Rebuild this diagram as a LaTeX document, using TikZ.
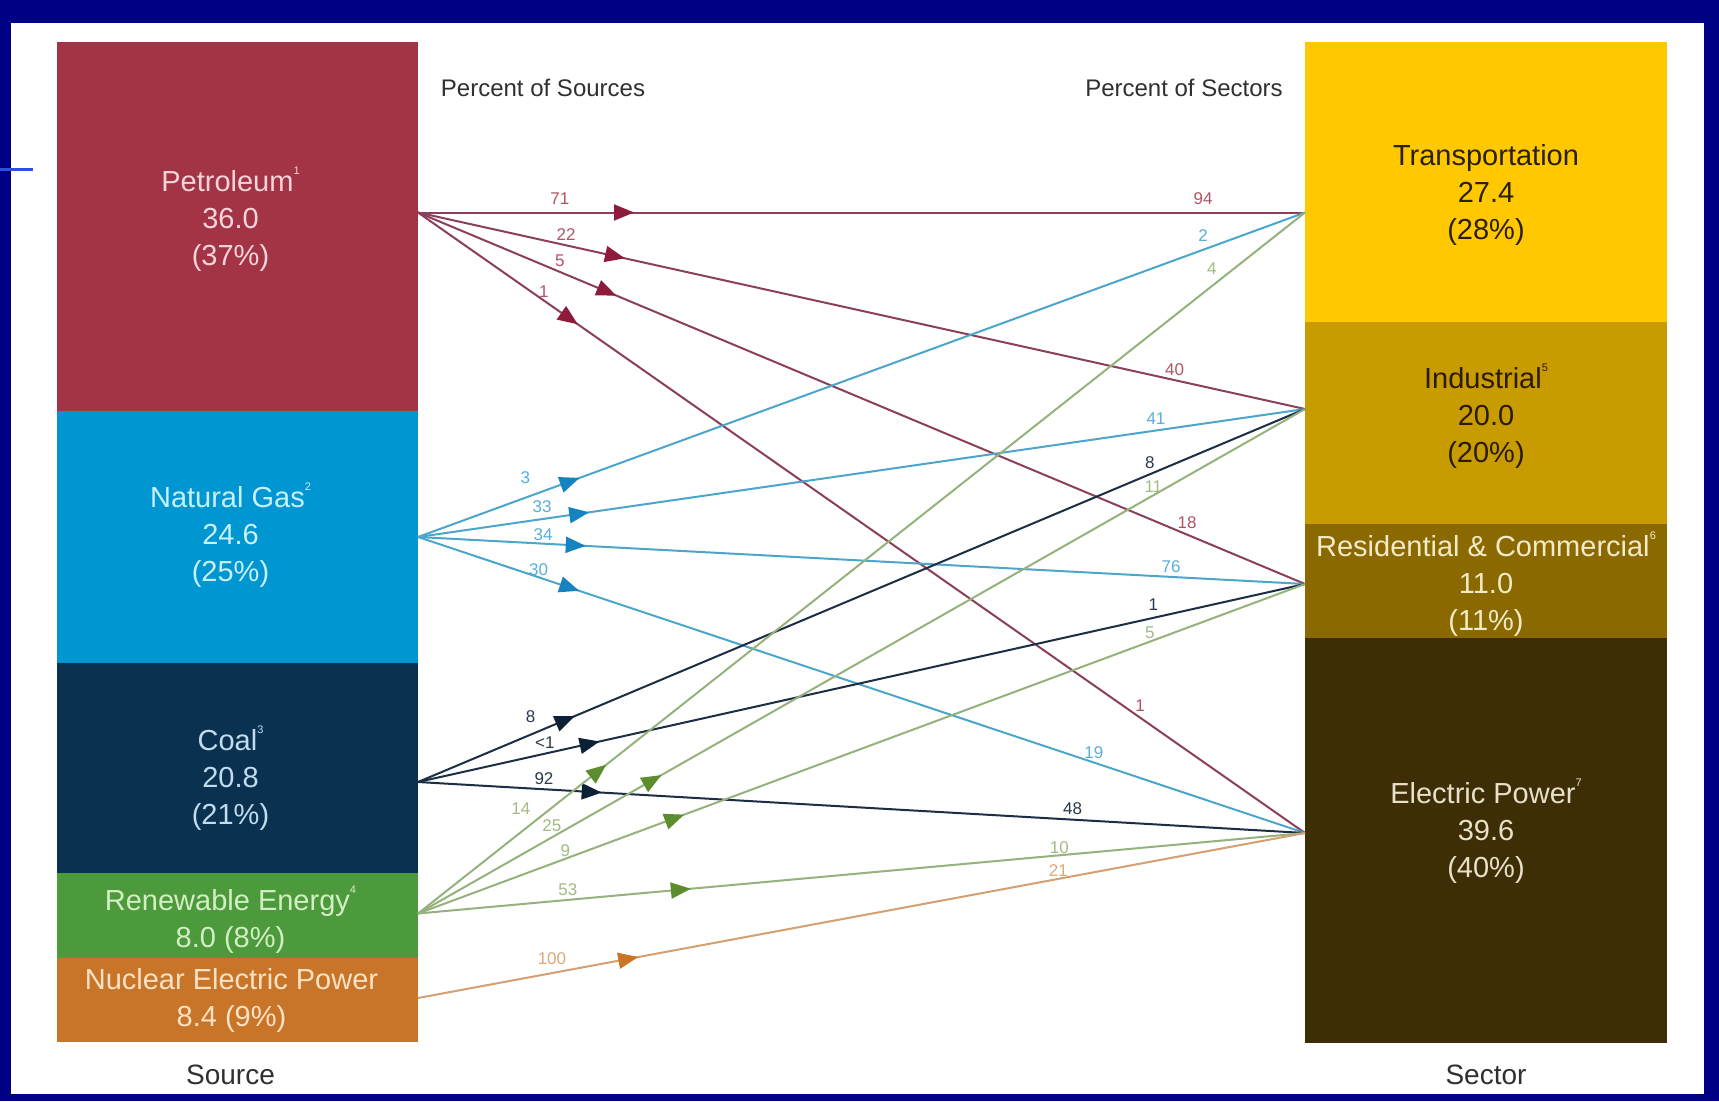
\documentclass[tikz,border=0pt]{standalone}
\usepackage{fontspec}
\setmainfont{Liberation Sans}
\usepackage{tikz}
\usetikzlibrary{arrows.meta, positioning, decorations.markings}

\definecolor{navy}{HTML}{000084}
\definecolor{slideblue}{HTML}{2E4FE0}
\definecolor{headgray}{HTML}{303030}
% source colours
\definecolor{petfill}{HTML}{A33445}
\definecolor{pettext}{HTML}{F6D4DA}
\definecolor{ngfill}{HTML}{0096D2}
\definecolor{ngtext}{HTML}{C8F0FF}
\definecolor{coalfill}{HTML}{0A3150}
\definecolor{coaltext}{HTML}{C0DCEE}
\definecolor{renfill}{HTML}{4C9A3C}
\definecolor{rentext}{HTML}{D4EEC4}
\definecolor{nucfill}{HTML}{C8752A}
\definecolor{nuctext}{HTML}{FBE2C4}
% sector colours
\definecolor{trfill}{HTML}{FFC800}
\definecolor{trtext}{HTML}{2A2000}
\definecolor{indfill}{HTML}{C89B00}
\definecolor{indtext}{HTML}{2A1C00}
\definecolor{rcfill}{HTML}{8A6A00}
\definecolor{rctext}{HTML}{F2EAC8}
\definecolor{elfill}{HTML}{3D2E05}
\definecolor{eltext}{HTML}{E8E0C8}
% flow colours
\definecolor{petline}{HTML}{8C4058}
\definecolor{petarrow}{HTML}{8E1B3C}
\definecolor{petlabel}{HTML}{B05464}
\definecolor{ngline}{HTML}{4CA6CC}
\definecolor{ngarrow}{HTML}{1583C0}
\definecolor{nglabel}{HTML}{5AAFD8}
\definecolor{coalline}{HTML}{1C2E44}
\definecolor{coalarrow}{HTML}{0C2036}
\definecolor{coallabel}{HTML}{2A3A4C}
\definecolor{renline}{HTML}{96B27C}
\definecolor{renarrow}{HTML}{5C8E2E}
\definecolor{renlabel}{HTML}{A2BA84}
\definecolor{nucline}{HTML}{D4A070}
\definecolor{nucarrow}{HTML}{CC7426}
\definecolor{nuclabel}{HTML}{DCA878}

\newcommand{\supnum}[1]{\raisebox{1.1ex}{\fontsize{11}{11}\selectfont #1}}

\tikzstyle{srcbox} = [rectangle, minimum width=361pt, inner sep=0pt, outer sep=0pt]
\tikzstyle{secbox} = [rectangle, minimum width=362pt, inner sep=0pt, outer sep=0pt]
\tikzstyle{boxtext} = [align=center, inner sep=0pt, font=\fontsize{29}{37}\selectfont]
\tikzstyle{head} = [font=\fontsize{24}{24}\selectfont, text=headgray]
\tikzstyle{foot} = [font=\fontsize{28}{28}\selectfont, text=headgray, inner sep=2pt]
\tikzset{
  flow/.style n args={3}{draw=#1, line width=2pt, postaction={decorate},
    decoration={markings, mark=at position #3 with {\arrow{Triangle[length=20pt,width=16pt,color=#2]}}}},
  petflow/.style={flow={petline}{petarrow}{#1}},
  ngflow/.style={flow={ngline}{ngarrow}{#1}},
  coalflow/.style={flow={coalline}{coalarrow}{#1}},
  renflow/.style={flow={renline}{renarrow}{#1}},
  nucflow/.style={flow={nucline}{nucarrow}{#1}},
  lbl/.style={font=\fontsize{17}{17}\selectfont, inner sep=1pt, text=#1},
}

\begin{document}
\begin{tikzpicture}[x=1pt, y=-1pt]
\useasboundingbox (0,0) rectangle (1719,1101);

% Frame
\fill[navy] (0,0) rectangle (1719,1101);
\fill[white] (11,23) rectangle (1704,1094);
\fill[slideblue] (0,168) rectangle (33,171);

% Source bars
\node (petroleum) [srcbox, fill=petfill, minimum height=369pt] at (237.5,226.5) {};
\node (natgas) [srcbox, fill=ngfill, minimum height=252pt, below=0pt of petroleum] {};
\node (coal) [srcbox, fill=coalfill, minimum height=210pt, below=0pt of natgas] {};
\node (renewable) [srcbox, fill=renfill, minimum height=85pt, below=0pt of coal] {};
\node (nuclear) [srcbox, fill=nucfill, minimum height=84pt, below=0pt of renewable] {};

% Sector bars
\node (transport) [secbox, fill=trfill, minimum height=280pt] at (1486,182) {};
\node (industrial) [secbox, fill=indfill, minimum height=202pt, below=0pt of transport] {};
\node (rescom) [secbox, fill=rcfill, minimum height=114pt, below=0pt of industrial] {};
\node (electric) [secbox, fill=elfill, minimum height=405pt, below=0pt of rescom] {};

% Bar texts
\node (pet-txt) [boxtext, text=pettext] at ([xshift=-7pt, yshift=7pt]petroleum) {Petroleum\supnum{1}\\36.0\\(37\%)};
\node (ng-txt) [boxtext, text=ngtext] at ([xshift=-7pt, yshift=2pt]natgas) {Natural Gas\supnum{2}\\24.6\\(25\%)};
\node (coal-txt) [boxtext, text=coaltext] at ([xshift=-7pt, yshift=-10pt]coal) {Coal\supnum{3}\\20.8\\(21\%)};
\node (ren-txt) [boxtext, text=rentext] at ([xshift=-7pt, yshift=-4pt]renewable) {Renewable Energy\supnum{4}\\8.0 (8\%)};
\node (nuc-txt) [boxtext, text=nuctext] at ([xshift=-6pt]nuclear) {Nuclear Electric Power\\8.4 (9\%)};
\node (tr-txt) [boxtext, text=trtext] at ([yshift=-13pt]transport) {Transportation\\27.4\\(28\%)};
\node (ind-txt) [boxtext, text=indtext] at ([yshift=7pt]industrial) {Industrial\supnum{5}\\20.0\\(20\%)};
\node (rc-txt) [boxtext, text=rctext] at ([yshift=-3pt]rescom) {Residential \& Commercial\supnum{6}\\11.0\\(11\%)};
\node (el-txt) [boxtext, text=eltext] at ([yshift=9pt]electric) {Electric Power\supnum{7}\\39.6\\(40\%)};

% Headings
\node (srchead) [head] at (543,88) {Percent of Sources};
\node (sechead) [head] at (1184,88) {Percent of Sectors};
\node (srcfoot) [foot, below=21pt of nuclear, xshift=-7pt] {Source};
\node (secfoot) [foot, below=20pt of electric] {Sector};

% Ports
\coordinate (pet-out) at ([yshift=14pt]petroleum.east);
\coordinate (ng-out) at (natgas.east);
\coordinate (coal-out) at ([yshift=-14pt]coal.east);
\coordinate (ren-out) at ([yshift=2pt]renewable.east);
\coordinate (nuc-out) at ([yshift=2pt]nuclear.east);
\coordinate (tr-in) at ([yshift=-30.5pt]transport.west);
\coordinate (ind-in) at ([yshift=14pt]industrial.west);
\coordinate (rc-in) at ([yshift=-3pt]rescom.west);
\coordinate (el-in) at ([yshift=7.5pt]electric.west);

% Petroleum flows
\draw [petflow=216pt] (pet-out) -- node[lbl=petlabel, pos=0.16, above=6pt] {71} node[lbl=petlabel, pos=0.885, above=6pt] {94} (tr-in);
\draw [petflow=212pt] (pet-out) -- node[lbl=petlabel, pos=0.167, above=3pt] {22} node[lbl=petlabel, pos=0.853, above=2pt] {40} (ind-in);
\draw [petflow=215pt] (pet-out) -- node[lbl=petlabel, pos=0.16, above=3pt] {5} node[lbl=petlabel, pos=0.867, above=4pt] {18} (rc-in);
\draw [petflow=195pt] (pet-out) -- node[lbl=petlabel, pos=0.142, above=1pt] {1} node[lbl=petlabel, pos=0.814, above=4pt] {1} (el-in);

% Natural gas flows
\draw [ngflow=172pt] (ng-out) -- node[lbl=nglabel, pos=0.121, above=12pt] {3} node[lbl=nglabel, pos=0.885, above=6pt] {2} (tr-in);
\draw [ngflow=173pt] (ng-out) -- node[lbl=nglabel, pos=0.14, above=4pt] {33} node[lbl=nglabel, pos=0.832, above=4pt] {41} (ind-in);
\draw [ngflow=168pt] (ng-out) -- node[lbl=nglabel, pos=0.141, above=1pt] {34} node[lbl=nglabel, pos=0.849, above=2pt] {76} (rc-in);
\draw [ngflow=170pt] (ng-out) -- node[lbl=nglabel, pos=0.136, above=0pt] {30} node[lbl=nglabel, pos=0.762, above=2pt] {19} (el-in);

% Coal flows
\draw [coalflow=170pt] (coal-out) -- node[lbl=coallabel, pos=0.127, above=10pt] {8} node[lbl=coallabel, pos=0.825, above=4pt] {8} (ind-in);
\draw [coalflow=186pt] (coal-out) -- node[lbl=coallabel, pos=0.143, above=3pt] {<1} node[lbl=coallabel, pos=0.829, above=5pt] {1} (rc-in);
\draw [coalflow=184pt] (coal-out) -- node[lbl=coallabel, pos=0.142, above=3pt] {92} node[lbl=coallabel, pos=0.738, above=3pt] {48} (el-in);

% Renewable flows
\draw [renflow=240pt] (ren-out) -- node[lbl=renlabel, pos=0.116, above=16pt] {14} node[lbl=renlabel, pos=0.895, above=10pt] {4} (tr-in);
\draw [renflow=280pt] (ren-out) -- node[lbl=renlabel, pos=0.151, above=4pt] {25} node[lbl=renlabel, pos=0.829, above=1pt] {11} (ind-in);
\draw [renflow=284pt] (ren-out) -- node[lbl=renlabel, pos=0.166, above=0pt] {9} node[lbl=renlabel, pos=0.825, above=1pt] {5} (rc-in);
\draw [renflow=274pt] (ren-out) -- node[lbl=renlabel, pos=0.169, above=2pt] {53} node[lbl=renlabel, pos=0.723, above=0pt] {10} (el-in);

% Nuclear flow
\draw [nucflow=224pt] (nuc-out) -- node[lbl=nuclabel, pos=0.151, above=6pt] {100} node[lbl=nuclabel, pos=0.722, above=0pt] {21} (el-in);

\end{tikzpicture}
\end{document}
